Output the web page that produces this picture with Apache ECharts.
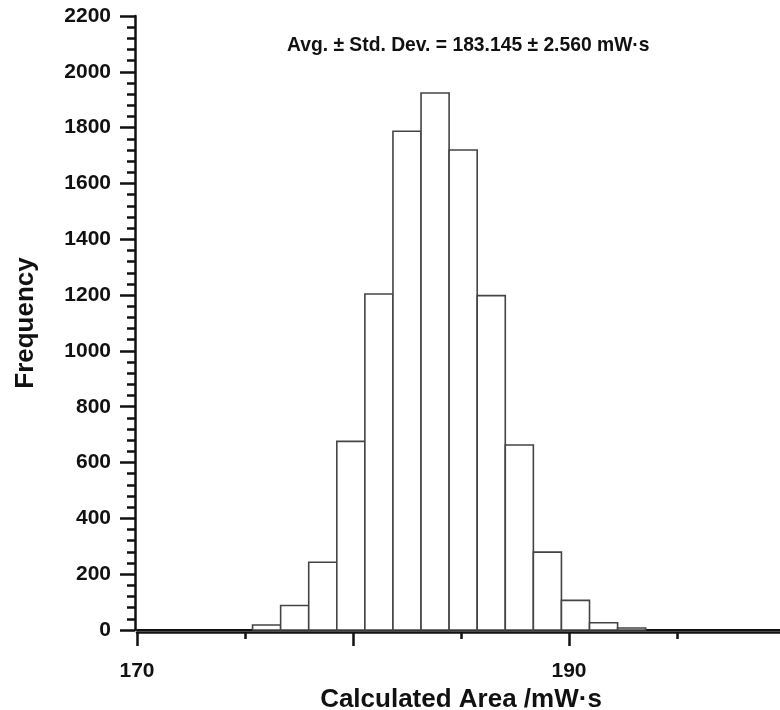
<!DOCTYPE html>
<html>
<head>
<meta charset="utf-8">
<script src="https://cdn.jsdelivr.net/npm/echarts@6/dist/echarts.min.js"></script>
<style>html,body{margin:0;padding:0;background:#fff}#c{width:780px;height:710px}</style>
</head>
<body>
<div id="c"></div>
<script>
// Histogram bin edges (mW·s) and frequencies
const binStart = [175.35, 176.65, 177.95, 179.25, 180.55, 181.85, 183.15, 184.45, 185.75, 187.05, 188.35, 189.65, 190.95, 192.25];
const binEnd   = [176.65, 177.95, 179.25, 180.55, 181.85, 183.15, 184.45, 185.75, 187.05, 188.35, 189.65, 190.95, 192.25, 193.55];
const frequency = [18, 88, 243, 676, 1204, 1787, 1924, 1720, 1198, 663, 279, 106, 26, 7];
const xLabelsShown = [170, 190];
const annotation = 'Avg. ± Std. Dev. = 183.145 ± 2.560 mW·s';
const xName = 'Calculated Area /mW·s';
const yName = 'Frequency';

const data = binStart.map((s, i) => [s, binEnd[i], frequency[i]]);
const font = 'Liberation Sans, Arial, Helvetica, sans-serif';

const chart = echarts.init(document.getElementById('c'), null, {renderer: 'canvas'});
chart.setOption({
  animation: false,
  backgroundColor: '#fff',
  title: {
    text: annotation,
    left: 282, top: 31,
    textStyle: {fontFamily: font, fontWeight: 'bold', fontSize: 19.3, color: '#111'}
  },
  grid: {left: 137, width: 648, top: 16, bottom: 80, containLabel: false, outerBoundsMode: 'none'},
  xAxis: [{
    type: 'value', min: 170, max: 200, interval: 10,
    offset: 2,
    name: xName, nameLocation: 'middle', nameGap: 46,
    nameTextStyle: {fontFamily: font, fontWeight: 'bold', fontSize: 26, color: '#111'},
    axisLine: {show: true, onZero: false, lineStyle: {color: '#111', width: 2.5}},
    axisTick: {show: true, inside: false, length: 14, lineStyle: {color: '#111', width: 2.5}},
    minorTick: {show: true, splitNumber: 2, length: 7, lineStyle: {color: '#111', width: 2.5}},
    axisLabel: {
      margin: 29, fontFamily: font, fontWeight: 'bold', fontSize: 21, color: '#111',
      formatter: v => xLabelsShown.includes(v) ? String(v) : ''
    },
    splitLine: {show: false}
  }, {
    type: 'value', position: 'top', min: 170, max: 200,
    axisLine: {show: true, lineStyle: {color: '#111', width: 2}},
    axisTick: {show: false}, axisLabel: {show: false}, splitLine: {show: false}
  }],
  yAxis: {
    type: 'value', min: 0, max: 2200, interval: 200,
    offset: 2,
    name: yName, nameLocation: 'middle', nameGap: 96, nameRotate: 90,
    nameTextStyle: {fontFamily: font, fontWeight: 'bold', fontSize: 26, color: '#111'},
    axisLine: {show: true, onZero: false, lineStyle: {color: '#111', width: 2.5}},
    axisTick: {show: true, inside: false, length: 15, lineStyle: {color: '#111', width: 2.5}},
    minorTick: {show: true, splitNumber: 5, length: 8, lineStyle: {color: '#111', width: 2.5}},
    axisLabel: {margin: 24, fontFamily: font, fontWeight: 'bold', fontSize: 21, color: '#111',
      formatter: v => String(v)},
    splitLine: {show: false}
  },
  series: [{
    type: 'custom',
    xAxisIndex: 0,
    data: data,
    renderItem: function (params, api) {
      const p0 = api.coord([api.value(0), api.value(2)]);
      const p1 = api.coord([api.value(1), 0]);
      return {
        type: 'rect',
        shape: {x: p0[0], y: p0[1], width: p1[0] - p0[0], height: p1[1] - p0[1]},
        style: {fill: '#fff', stroke: '#444', lineWidth: 1.6}
      };
    },
    encode: {x: [0, 1], y: 2}
  }]
});
</script>
</body>
</html>
